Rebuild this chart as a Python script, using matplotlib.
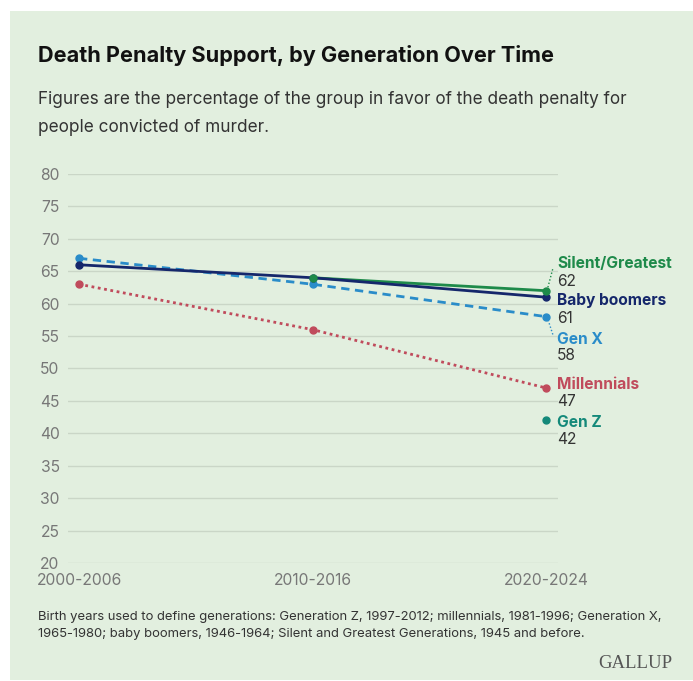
import numpy as np
import matplotlib
matplotlib.use("Agg")
import matplotlib.pyplot as plt
from matplotlib.patches import Rectangle

periods = ["2000-2006", "2010-2016", "2020-2024"]
silent = [np.nan, 64, 62]
boomers = [66, 64, 61]
genx = [67, 63, 58]
millennials = [63, 56, 47]
genz = [np.nan, np.nan, 42]
yticks = [20, 25, 30, 35, 40, 45, 50, 55, 60, 65, 70, 75, 80]

W, H = 693, 681
fig = plt.figure(figsize=(W / 100, H / 100), dpi=100)
fig.patch.set_facecolor("white")
BG = "#e2efdf"
fig.patches.append(Rectangle((10 / W, 0.002), 1 - 10 / W, 1 - 11 / H - 0.002,
                             transform=fig.transFigure, facecolor=BG, edgecolor="none", zorder=-10))

FONT = "Inter"
plt.rcParams["font.family"] = [FONT, "DejaVu Sans"]

def px(x, y):
    return x / W, 1 - y / H

fig.text(*px(38, 55), "Death Penalty Support, by Generation Over Time", fontsize=15.6,
         fontweight="bold", color="#111111", va="center", ha="left")
fig.text(*px(38, 100), "Figures are the percentage of the group in favor of the death penalty for",
         fontsize=12.4, color="#333333", va="center", ha="left")
fig.text(*px(38, 128), "people convicted of murder.",
         fontsize=12.4, color="#333333", va="center", ha="left")

ax_left, ax_right = 68, 558
ax_top, ax_bot = 174, 563
ax = fig.add_axes([ax_left / W, 1 - ax_bot / H, (ax_right - ax_left) / W, (ax_bot - ax_top) / H])
ax.set_facecolor("none")
ax.set_zorder(1)
x = np.arange(len(periods))
ax.set_xlim(-11 / 233.5, 2 + 12 / 233.5)
ax.set_ylim(20, 80)
ax.set_yticks(yticks)
ax.set_xticks(x)
ax.set_xticklabels(periods)
for s in ax.spines.values():
    s.set_visible(False)
ax.grid(axis="y", color="#cad6c7", linewidth=1)
ax.set_axisbelow(True)
ax.tick_params(axis="both", length=0, labelsize=11.3, labelcolor="#777777")
ax.tick_params(axis="y", pad=6)
ax.tick_params(axis="x", pad=7)

c_silent = "#1e8a4a"
c_boom = "#15276b"
c_genx = "#2a8cc9"
c_mill = "#c04b5c"
c_genz = "#14897a"

ax.plot(x, silent, color=c_silent, lw=2, zorder=3, clip_on=False)
ax.plot(x, genx, color=c_genx, lw=2, ls=(0, (3, 2)), zorder=3, clip_on=False)
ax.plot(x, millennials, color=c_mill, lw=2, ls=(0, (1, 1.3)), zorder=3, clip_on=False)
ax.plot(x, boomers, color=c_boom, lw=2, zorder=4, clip_on=False)
ax.plot(x, genx, color=c_genx, lw=0, marker="o", ms=5, zorder=5, clip_on=False)
ax.plot(x, millennials, color=c_mill, lw=0, marker="o", ms=5, zorder=5, clip_on=False)
ax.plot(x, boomers, color=c_boom, lw=0, marker="o", ms=5, zorder=5, clip_on=False)
ax.plot(x, silent, color=c_silent, lw=0, marker="o", ms=5, zorder=6, clip_on=False)
ax.plot(x, genz, color=c_genz, lw=0, marker="o", ms=5, zorder=5, clip_on=False)

# end labels
labels = [
    ("Silent/Greatest", silent[-1], c_silent, 264),
    ("Baby boomers", boomers[-1], c_boom, 301),
    ("Gen X", genx[-1], c_genx, 339),
    ("Millennials", millennials[-1], c_mill, 385),
    ("Gen Z", genz[-1], c_genz, 422),
]
for name, val, col, ypx in labels:
    fx, fy = px(557, ypx)
    fig.text(fx, fy, name, fontsize=11.2, fontweight="bold", color=col, va="center", ha="left")
    fig.text(fx, 1 - (ypx + 17) / H, f"{val:.0f}", fontsize=11.2, color="#333333",
             va="center", ha="left")
    # leader line
    p = ax.transData.transform((2, val))
    p_fig = fig.transFigure.inverted().transform(p)
    ty = fy
    if abs(p_fig[1] - ty) * H > 6:
        ty2 = ty - (4 / H if p_fig[1] < ty else -4 / H)
        fig.add_artist(plt.Line2D([p_fig[0] + 1 / W, 553 / W], [p_fig[1], ty2],
                                  color=col, lw=1, ls=(0, (1, 1.5)), transform=fig.transFigure))

fig.text(*px(38, 617), "Birth years used to define generations: Generation Z, 1997-2012; millennials, 1981-1996; Generation X,",
         fontsize=9.4, color="#333333", va="center", ha="left")
fig.text(*px(38, 634), "1965-1980; baby boomers, 1946-1964; Silent and Greatest Generations, 1945 and before.",
         fontsize=9.4, color="#333333", va="center", ha="left")
fig.text(*px(672, 664), "GALLUP", fontsize=13.5, family=["Liberation Serif", "DejaVu Serif"],
         color="#555555", va="center", ha="right")

fig.savefig("out.png", dpi=100, facecolor="white")
